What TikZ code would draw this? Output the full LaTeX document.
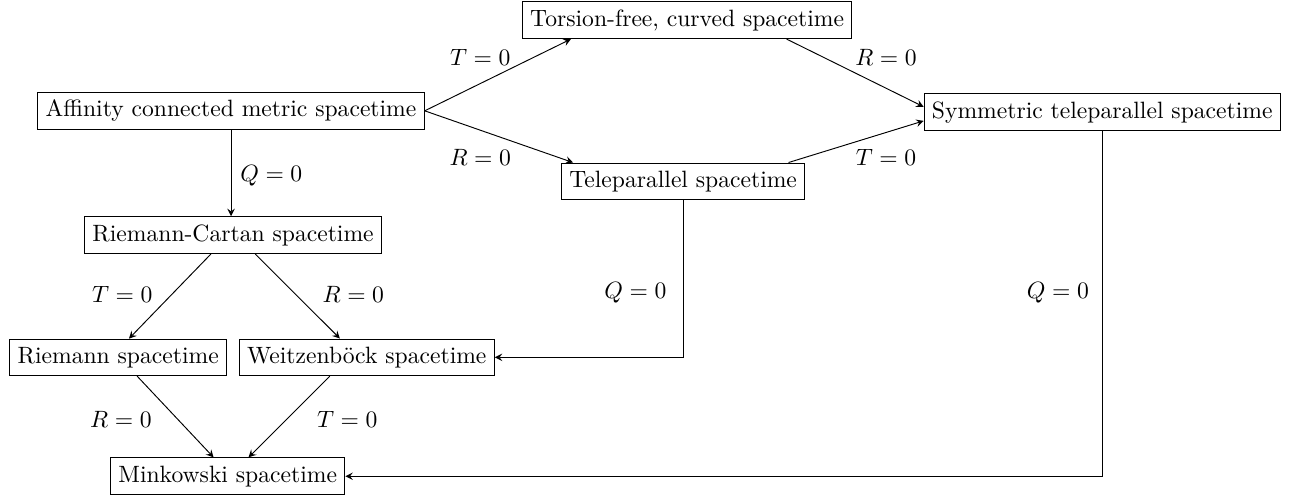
\documentclass[tikz,border=0pt]{standalone}
\usepackage{amsmath}
\usepackage{tikz}

\begin{document}
\begin{tikzpicture}
    \useasboundingbox (0,0) rectangle (19.22,-7.43);
    % Nodes
    \node[draw] (torsion) at (10.23,-0.30) {Torsion-free, curved spacetime};
    \node[draw] (aff) at (3.44,-1.65) {Affinity connected metric spacetime};
    \node[draw] (sym) at (16.41,-1.67) {Symmetric teleparallel spacetime};
    \node[draw] (tele) at (10.17,-2.70) {Teleparallel spacetime};
    \node[draw] (rc) at (3.47,-3.50) {Riemann-Cartan spacetime};
    \node[draw] (riemann) at (1.76,-5.32) {Riemann spacetime};
    \node[draw] (weitz) at (5.46,-5.32) {Weitzenb\"ock spacetime};
    \node[draw] (mink) at (3.39,-7.09) {Minkowski spacetime};
    % Labels
    \node (t1) at (7.15,-0.86) {$T=0$};
    \node (r1) at (7.15,-2.34) {$R=0$};
    \node (r2) at (13.19,-0.85) {$R=0$};
    \node (t2) at (13.19,-2.34) {$T=0$};
    \node (q1) at (4.04,-2.61) {$Q=0$};
    \node (t3) at (1.82,-4.39) {$T=0$};
    \node (r3) at (5.26,-4.39) {$R=0$};
    \node (q2) at (9.46,-4.36) {$Q=0$};
    \node (q3) at (15.75,-4.36) {$Q=0$};
    \node (r4) at (1.80,-6.24) {$R=0$};
    \node (t4) at (5.17,-6.24) {$T=0$};
    % Edges
    \draw[-stealth] (aff.east) -- ([xshift=0.73cm]torsion.south west);
    \draw[-stealth] (aff.east) -- ([xshift=0.18cm]tele.north west);
    \draw[-stealth] ([xshift=-0.98cm]torsion.south east) -- ([yshift=0.08cm]sym.west);
    \draw[-stealth] ([xshift=-0.25cm]tele.north east) -- ([yshift=-0.13cm]sym.west);
    \draw[-stealth] (aff.south) -- (aff.south |- rc.north);
    \draw[-stealth] ([xshift=-0.33cm]rc.south) -- ([xshift=0.16cm]riemann.north);
    \draw[-stealth] ([xshift=0.33cm]rc.south) -- ([xshift=-0.40cm]weitz.north);
    \draw[-stealth] (tele.south) |- (weitz.east);
    \draw[-stealth] (sym.south) |- (mink.east);
    \draw[-stealth] ([xshift=0.28cm]riemann.south) -- ([xshift=-0.21cm]mink.north);
    \draw[-stealth] ([xshift=-0.55cm]weitz.south) -- ([xshift=0.31cm]mink.north);
\end{tikzpicture}
\end{document}
